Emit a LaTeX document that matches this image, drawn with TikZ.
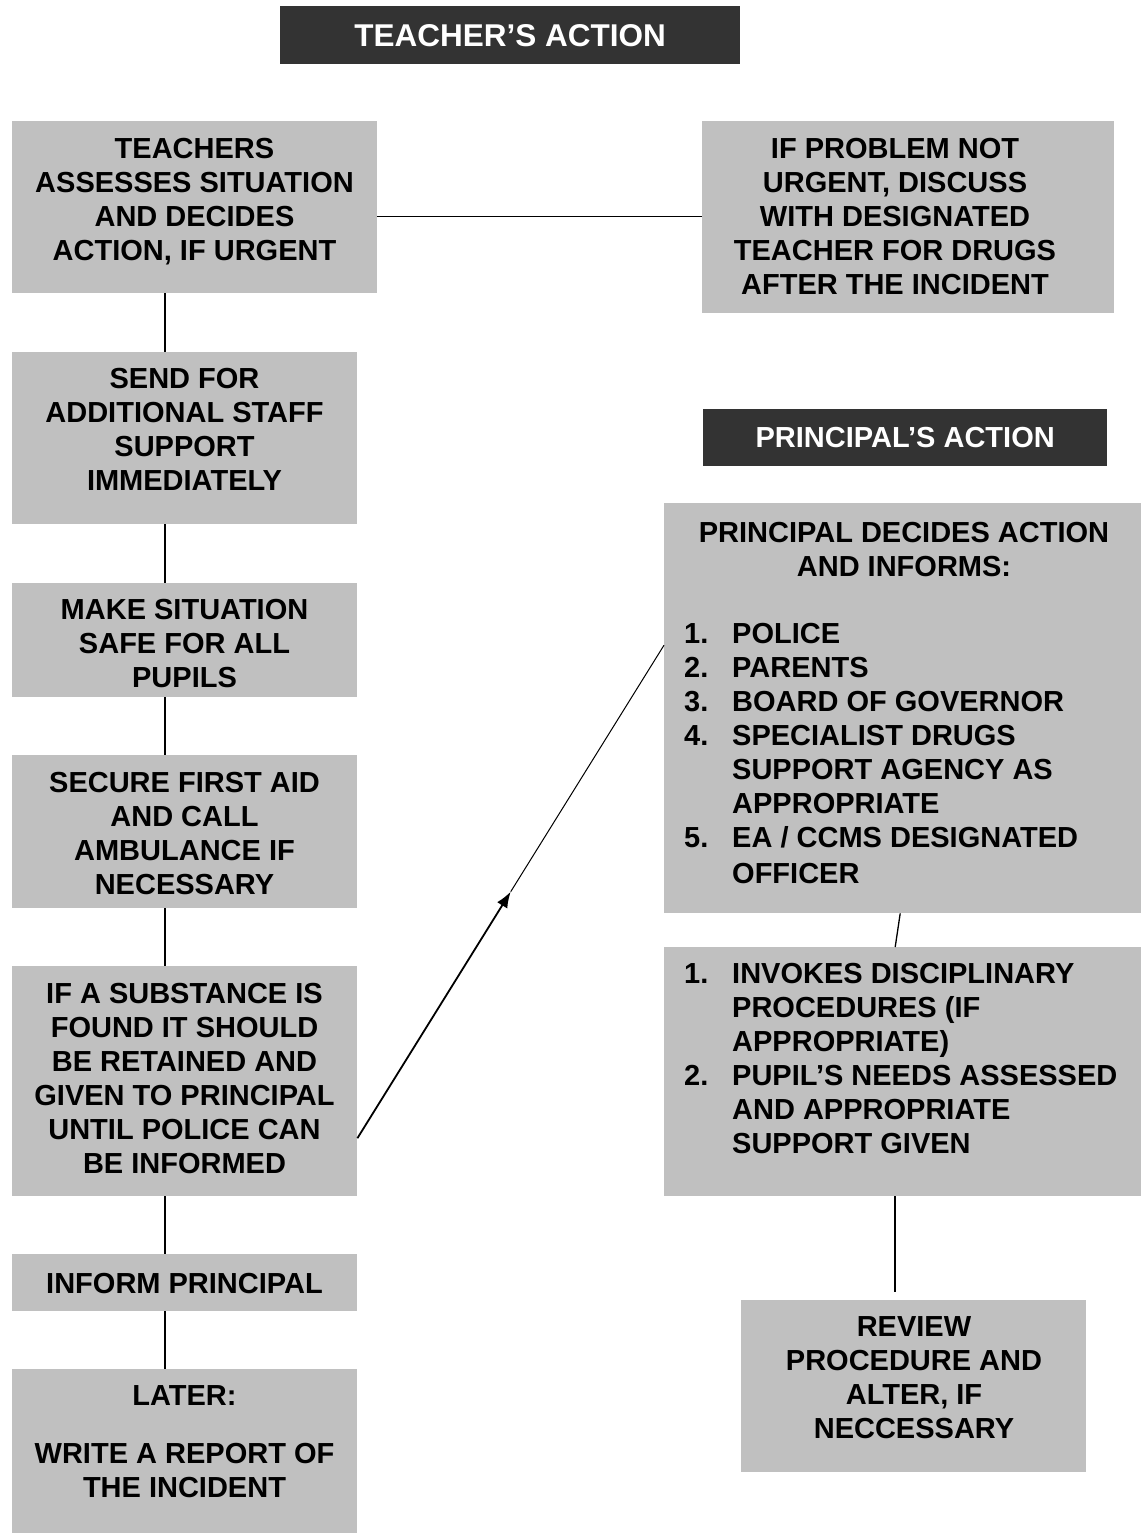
\documentclass[tikz,border=0pt]{standalone}
\usepackage{fontspec}
\setmainfont{Liberation Sans}
\usetikzlibrary{calc,arrows.meta}
\definecolor{boxgray}{RGB}{192,192,192}
\definecolor{headdark}{RGB}{51,51,51}
\newcommand{\num}[1]{\makebox[48pt][l]{#1}}
\newcommand{\ind}{\hspace*{48pt}}
\begin{document}
\begin{tikzpicture}[x=1pt,y=-1pt,
  box/.style={fill=boxgray, draw=none, inner sep=0pt, anchor=north west},
  headbox/.style={fill=headdark, draw=none, inner sep=0pt, anchor=north west, text=white},
  txt/.style={inner sep=0pt, align=center, anchor=north, font=\bfseries\fontsize{29}{34}\selectfont},
  ltxt/.style={inner sep=0pt, align=left, anchor=north west, font=\bfseries\fontsize{29}{34}\selectfont},
  conn/.style={line width=1.3pt, draw=black}]
\useasboundingbox (0,0) rectangle (1141,1534);
\fill[white] (0,0) rectangle (1141,1534);

% headers
\node[headbox, minimum width=460pt, minimum height=58pt, font=\bfseries\fontsize{31.5}{36}\selectfont] (th) at (280,6) {TEACHER’S ACTION};
\node[headbox, minimum width=404pt, minimum height=57pt, font=\bfseries\fontsize{29}{34}\selectfont] (ph) at (703,409) {PRINCIPAL’S ACTION};

% left column boxes
\node[box, minimum width=365pt, minimum height=172pt] (b1) at (12,121) {};
\node[box, minimum width=412pt, minimum height=192pt] (r1) at (702,121) {};
\node[box, minimum width=345pt, minimum height=172pt] (b2) at (12,352) {};
\node[box, minimum width=345pt, minimum height=114pt] (b3) at (12,583) {};
\node[box, minimum width=345pt, minimum height=153pt] (b4) at (12,755) {};
\node[box, minimum width=345pt, minimum height=230pt] (b5) at (12,966) {};
\node[box, minimum width=345pt, minimum height=57pt] (b6) at (12,1254) {};
\node[box, minimum width=345pt, minimum height=164pt] (b7) at (12,1369) {};

% right column boxes
\node[box, minimum width=477pt, minimum height=410pt] (p1) at (664,503) {};
\node[box, minimum width=477pt, minimum height=249pt] (p2) at (664,947) {};
\node[box, minimum width=345pt, minimum height=172pt] (p3) at (741,1300) {};

% texts
\node[txt] (b1t) at (194.5,137.6) {TEACHERS\\ASSESSES SITUATION\\AND DECIDES\\ACTION, IF URGENT};
\node[txt] (r1t) at (895,137.6) {IF PROBLEM NOT\\URGENT, DISCUSS\\WITH DESIGNATED\\TEACHER FOR DRUGS\\AFTER THE INCIDENT};
\node[txt] (b2t) at (184.5,367.6) {SEND FOR\\ADDITIONAL STAFF\\SUPPORT\\IMMEDIATELY};
\node[txt] (b3t) at (184.5,598.6) {MAKE SITUATION\\SAFE FOR ALL\\PUPILS};
\node[txt] (b4t) at (184.5,771.6) {SECURE FIRST AID\\AND CALL\\AMBULANCE IF\\NECESSARY};
\node[txt] (b5t) at (184.5,982.6) {IF A SUBSTANCE IS\\FOUND IT SHOULD\\BE RETAINED AND\\GIVEN TO PRINCIPAL\\UNTIL POLICE CAN\\BE INFORMED};
\node[txt] (b6t) at (184.5,1272.6) {INFORM PRINCIPAL};
\node[txt] (b7t) at (184.5,1385.6) {LATER:\\[24pt]WRITE A REPORT OF\\THE INCIDENT};
\node[txt] (p1t) at (904,521.6) {PRINCIPAL DECIDES ACTION\\AND INFORMS:};
\node[ltxt] (p1l) at (684,622.6) {\num{1.}POLICE\\\num{2.}PARENTS\\\num{3.}BOARD OF GOVERNOR\\\num{4.}SPECIALIST DRUGS\\\ind SUPPORT AGENCY AS\\\ind APPROPRIATE\\\num{5.}EA / CCMS DESIGNATED\\[2pt]\ind OFFICER};
\node[ltxt] (p2l) at (684,962.6) {\num{1.}INVOKES DISCIPLINARY\\\ind PROCEDURES (IF\\\ind APPROPRIATE)\\\num{2.}PUPIL’S NEEDS ASSESSED\\\ind AND APPROPRIATE\\\ind SUPPORT GIVEN};
\node[txt] (p3t) at (914,1316.6) {REVIEW\\PROCEDURE AND\\ALTER, IF\\NECCESSARY};

% connectors
\coordinate (colL) at (165,0);
\coordinate (colR) at (895,0);
\draw[conn] (b1.south -| colL) -- (b2.north -| colL);
\draw[conn] (b2.south -| colL) -- (b3.north -| colL);
\draw[conn] (b3.south -| colL) -- (b4.north -| colL);
\draw[conn] (b4.south -| colL) -- (b5.north -| colL);
\draw[conn] (b5.south -| colL) -- (b6.north -| colL);
\draw[conn] (b6.south -| colL) -- (b7.north -| colL);

\coordinate (h1) at ([yshift=-9pt]b1.east);
\draw[conn] (h1) -- (h1 -| r1.west);

\draw[conn] ([xshift=-2.5pt]p1.south) -- ([xshift=-7.5pt]p2.north);
\coordinate (r3top) at ([yshift=8pt]p3.north);
\draw[conn] (p2.south -| colR) -- (r3top -| colR);

\coordinate (a1) at ([yshift=-57pt]b5.east);
\coordinate (a2) at ([yshift=63pt]p1.west);
\coordinate (am) at ($(a1)!0.5!(a2)$);
\draw[line width=1.8pt, -{Latex[length=16pt,width=12pt]}] (a1) -- (am);
\draw[line width=1pt] (am) -- (a2);
\end{tikzpicture}
\end{document}
